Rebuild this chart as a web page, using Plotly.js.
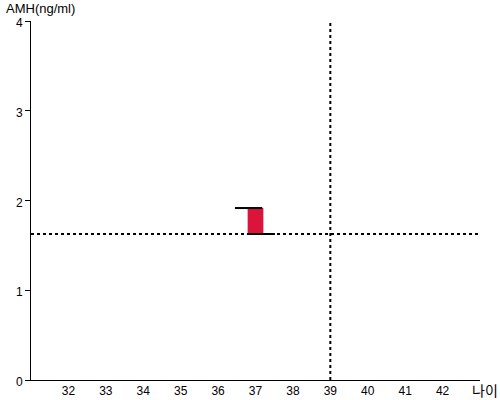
<!DOCTYPE html>
<html><head><meta charset="utf-8">
<script src="https://cdn.plot.ly/plotly-3.0.1.min.js"></script>
<style>html,body{margin:0;padding:0;background:#fff}</style>
</head><body><div id="chart" style="width:500px;height:400px"></div>
<script>
// Data
const barX = [37];
const barBase = [1.627];
const barTop = [1.916];
const barWidth = [0.42];
const topLineX = [36.45, 37.18];
const topLineY = [1.916, 1.916];
const bottomLineX = [36.77, 37.52];
const bottomLineY = [1.627, 1.627];
const refAge = 39;
const refAMH = 1.627;
const xTicks = [32, 33, 34, 35, 36, 37, 38, 39, 40, 41, 42];
const yTicks = [0, 1, 2, 3, 4];

const traces = [
  {type:'bar', x: barX, y: barTop.map((t,i)=>t-barBase[i]), base: barBase, width: barWidth,
   marker:{color:'#DC143C', line:{width:0}}, hoverinfo:'skip', showlegend:false},
  {type:'scatter', mode:'lines', x: topLineX, y: topLineY, line:{color:'#000', width:2}, showlegend:false},
  {type:'scatter', mode:'lines', x: bottomLineX, y: bottomLineY, line:{color:'#000', width:2}, showlegend:false},
  {type:'scatter', mode:'lines', x: [31, 43], y: [refAMH, refAMH], line:{color:'#000', width:2, dash:'dot'}, showlegend:false},
  {type:'scatter', mode:'lines', x: [refAge, refAge], y: [0, 4], line:{color:'#000', width:2, dash:'dot'}, showlegend:false}
];

const layout = {
  width:500, height:400,
  margin:{l:31, r:20, t:21, b:20, pad:0},
  paper_bgcolor:'#fff', plot_bgcolor:'#fff',
  font:{family:'Arial, Liberation Sans, sans-serif', size:12, color:'#000'},
  showlegend:false,
  xaxis:{range:[31,43], tickvals:xTicks, ticktext:xTicks.map(String), showgrid:false, zeroline:false,
         showline:true, linecolor:'#000', linewidth:1, ticks:'', fixedrange:true,
         tickfont:{size:12}},
  yaxis:{range:[0,4], tickvals:yTicks, ticktext:yTicks.map(String), showgrid:false, zeroline:false,
         showline:true, linecolor:'#000', linewidth:1, ticks:'outside', ticklen:5, tickcolor:'#000', fixedrange:true,
         tickfont:{size:12}, ticklabelshift:2},
  annotations:[
    {text:'AMH(ng/ml)', xref:'paper', yref:'paper', x:0, y:1, xshift:-27, yshift:3, xanchor:'left', yanchor:'bottom',
     showarrow:false, font:{family:'Arial, Liberation Sans, sans-serif', size:13, color:'#000'}},
    {text:'나이', xref:'paper', yref:'paper', x:1, y:0, xshift:20, yshift:-10, xanchor:'right', yanchor:'middle',
     showarrow:false, font:{family:'Noto Sans CJK KR', size:14, color:'#000'}}
  ]
};
Plotly.newPlot('chart', traces, layout, {staticPlot:true, displayModeBar:false});
</script></body></html>
